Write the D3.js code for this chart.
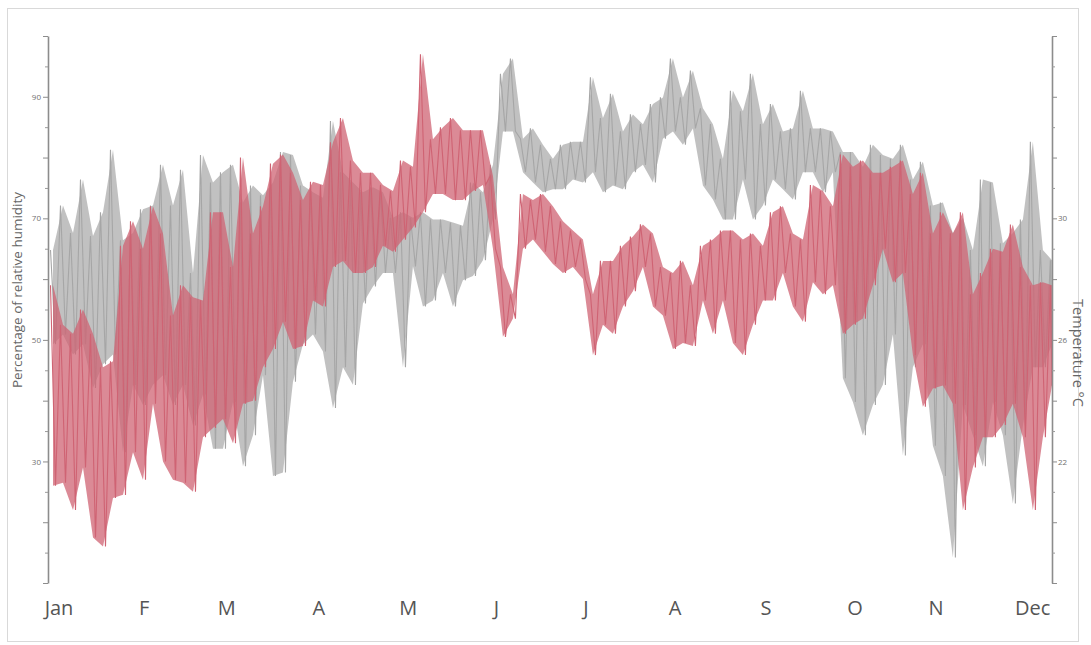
<!DOCTYPE html>
<html><head><meta charset="utf-8">
<script src="https://cdn.jsdelivr.net/npm/d3@7"></script>
<style>body{margin:0;background:#fff;} svg{display:block;}</style>
</head><body><svg id="c" width="1091" height="645"></svg>
<script>
// ---- data ----
const months = ["Jan","F","M","A","M","J","J","A","S","O","N","Dec"];
const monthLabelDays = [4,35,65,98.5,131,163,195.6,228,261,293.4,322.8,358];
const humidityLabelTicks = [90,70,50,30];
const tempLabelTicks = [30,26,22];
const binDays = 3.635; // each value pair = max/min within a ~3.6 day window
const humidityHigh = [64.8,72.1,67.6,76.4,67.1,71.0,81.3,66.4,67.6,71.5,72.1,78.8,72.1,78.0,61.0,80.4,75.9,
77.6,78.8,72.6,75.4,73.8,75.9,80.9,80.4,75.4,74.3,73.4,86.0,77.6,75.9,74.3,75.1,74.3,
70.1,71.0,70.1,71.0,69.8,69.8,69.3,68.8,75.9,74.3,78.8,93.8,96.3,83.1,84.8,82.1,79.8,
82.1,82.6,82.6,93.2,86.5,90.5,84.3,87.1,85.5,88.8,89.9,96.3,89.9,94.3,88.1,85.5,79.8,
91.0,87.6,93.8,85.5,88.8,84.3,84.8,91.0,84.8,84.8,84.3,80.9,80.9,78.5,82.1,80.4,79.8,
82.1,76.4,79.3,72.1,72.6,67.6,70.1,64.8,76.4,75.9,65.9,67.6,69.8,82.6,64.8,63.1];
const humidityLow = [49.3,50.9,47.6,49.3,42.1,46.0,47.6,31.5,42.6,39.3,42.6,44.2,39.3,42.6,35.9,41.0,32.1,
32.1,39.8,29.2,34.3,44.2,27.6,28.2,43.1,49.3,50.9,48.1,38.8,45.5,42.6,56.0,58.8,61.0,
61.0,45.5,62.1,55.5,56.5,61.0,55.5,59.8,60.5,63.1,69.8,84.3,84.3,77.6,75.9,74.3,74.8,
74.8,76.4,75.9,77.6,74.3,75.4,74.8,77.6,78.8,75.9,83.1,84.3,82.1,84.8,75.4,73.1,69.8,
69.8,76.4,69.8,72.1,76.4,74.8,73.1,77.6,77.6,74.3,77.6,43.7,39.8,34.3,39.3,42.6,50.9,
31.0,45.5,49.3,32.6,27.6,14.2,39.3,34.3,29.2,39.8,34.3,23.1,35.9,45.5,45.5,49.3];
const tempHigh = [27.8,26.5,26.2,27.0,26.2,25.1,25.3,29.1,29.9,29.0,30.4,29.5,26.8,27.8,27.4,27.3,30.2,
30.2,28.4,32.0,29.5,30.4,31.8,32.1,31.5,30.6,31.2,31.1,32.5,33.3,31.9,31.5,31.5,31.1,
30.9,31.9,31.7,35.4,32.6,33.0,33.3,32.9,32.9,32.9,31.4,28.4,27.5,30.8,30.6,30.8,30.4,
29.9,29.6,29.3,27.5,28.6,28.6,29.1,29.4,29.8,29.5,28.4,28.2,28.6,27.8,29.1,29.3,29.6,
29.6,29.3,29.5,29.1,30.2,30.4,29.5,29.3,31.1,30.9,30.4,32.1,31.7,31.9,31.5,31.5,31.7,
31.9,30.8,31.5,29.5,30.2,29.5,30.2,27.5,28.2,29.0,28.9,29.8,28.4,27.8,27.9,27.8];
const tempLow = [21.2,21.3,20.4,21.8,19.5,19.2,20.8,20.9,22.3,21.4,23.9,22.0,21.4,21.3,21.0,22.8,23.1,
23.4,22.6,23.9,24.0,25.1,25.7,26.6,25.7,25.8,27.3,27.1,28.4,28.6,28.2,28.2,28.4,29.1,
28.9,29.3,29.7,30.2,30.8,30.8,30.6,30.6,30.9,31.1,29.0,26.1,26.7,29.0,29.3,28.9,28.5,
28.2,28.4,28.0,25.5,26.5,26.2,27.1,27.6,28.4,27.1,26.8,25.7,25.9,25.8,27.3,26.2,27.3,
25.9,25.5,26.5,27.3,27.3,28.2,27.1,26.6,27.9,27.5,27.8,26.2,26.5,26.7,27.8,29.0,27.9,
28.2,25.5,23.8,24.4,24.5,23.9,20.4,21.8,22.8,22.8,23.2,23.9,22.8,20.4,22.8,24.5];

// ---- chart ----
const L = 48, R = 1052, T = 36, B = 583;
const svg = d3.select("#c");
const grayC = "#a6a6a6", redC = "#cf6373";

svg.append("rect").attr("x",7.5).attr("y",8.5).attr("width",1071).attr("height",633)
  .attr("fill","none").attr("stroke","#d9d9d9");

const x = d3.scaleLinear([0,365],[L,R]);
const yH = d3.scaleLinear([10,100],[B,T]);
const yT = d3.scaleLinear([18,36],[B,T]);

svg.append("defs").append("clipPath").attr("id","clip")
  .append("rect").attr("x",L).attr("y",T-30).attr("width",R-L).attr("height",B-T+30);

function zig(hi, lo){
  const pts = [];
  hi.forEach((h,i)=>{
    pts.push([Math.min(365,(i+0.25)*binDays), h]);
    pts.push([Math.min(365,(i+0.75)*binDays), lo[i]]);
  });
  return pts;
}
function band(hi, lo){
  return hi.map((h,i)=>({d:Math.min(365,(i+0.5)*binDays), h, l:lo[i]}));
}
const g = svg.append("g").attr("clip-path","url(#clip)");
function drawSeries(hi, lo, y, col, op){
  g.append("path").datum(band(hi,lo))
    .attr("d", d3.area().x(d=>x(d.d)).y0(d=>y(d.l)).y1(d=>y(d.h)))
    .attr("fill", col).attr("opacity",op);
  g.append("path").datum(zig(hi,lo))
    .attr("d", d3.line().x(d=>x(d[0])).y(d=>y(d[1])))
    .attr("fill","none").attr("stroke",col).attr("stroke-width",1.1);
}
drawSeries(humidityHigh, humidityLow, yH, grayC, 0.7);
drawSeries(tempHigh, tempLow, yT, redC, 0.75);

// axes
function styleAxis(sel){
  sel.select(".domain").attr("stroke","#8c8c8c").attr("stroke-width",1.6);
  sel.selectAll(".tick line").attr("stroke","#8c8c8c");
  sel.selectAll(".tick text").attr("fill","#6f6f6f").attr("font-size",8).attr("font-family","Open Sans, sans-serif");
}
const axL = svg.append("g").attr("transform",`translate(${L},0)`)
  .call(d3.axisLeft(yH).tickValues(d3.range(10,101,10)).tickSize(5).tickSizeOuter(0).tickPadding(2)
    .tickFormat(d=>humidityLabelTicks.includes(d)?d:""));
styleAxis(axL);
svg.append("g").attr("transform",`translate(${L},0)`)
  .call(d3.axisLeft(yH).tickValues(d3.range(15,100,10)).tickSize(3).tickFormat(""))
  .call(s=>{s.select(".domain").remove(); s.selectAll("line").attr("stroke","#9a9a9a");});

const axR = svg.append("g").attr("transform",`translate(${R},0)`)
  .call(d3.axisRight(yT).tickValues(d3.range(18,37,2)).tickSize(5).tickSizeOuter(0).tickPadding(1)
    .tickFormat(d=>tempLabelTicks.includes(d)?d:""));
styleAxis(axR);
svg.append("g").attr("transform",`translate(${R},0)`)
  .call(d3.axisRight(yT).tickValues(d3.range(19,36,2)).tickSize(3).tickFormat(""))
  .call(s=>{s.select(".domain").remove(); s.selectAll("line").attr("stroke","#9a9a9a");});

// month labels
svg.append("g").selectAll("text").data(months).join("text")
  .attr("x",(d,i)=>x(monthLabelDays[i])).attr("y",615)
  .attr("text-anchor","middle").attr("fill","#555").attr("font-size",20)
  .attr("font-family","Open Sans, sans-serif").text(d=>d);

// axis titles
svg.append("text").attr("transform","translate(22,290) rotate(-90)")
  .attr("text-anchor","middle").attr("fill","#666").attr("font-size",13.5)
  .attr("font-family","Open Sans, sans-serif").text("Percentage of relative humidity");
svg.append("text").attr("transform","translate(1073,353) rotate(90)")
  .attr("text-anchor","middle").attr("fill","#666").attr("font-size",14.5)
  .attr("font-family","Open Sans, sans-serif").text("Temperature °C");
</script></body></html>
